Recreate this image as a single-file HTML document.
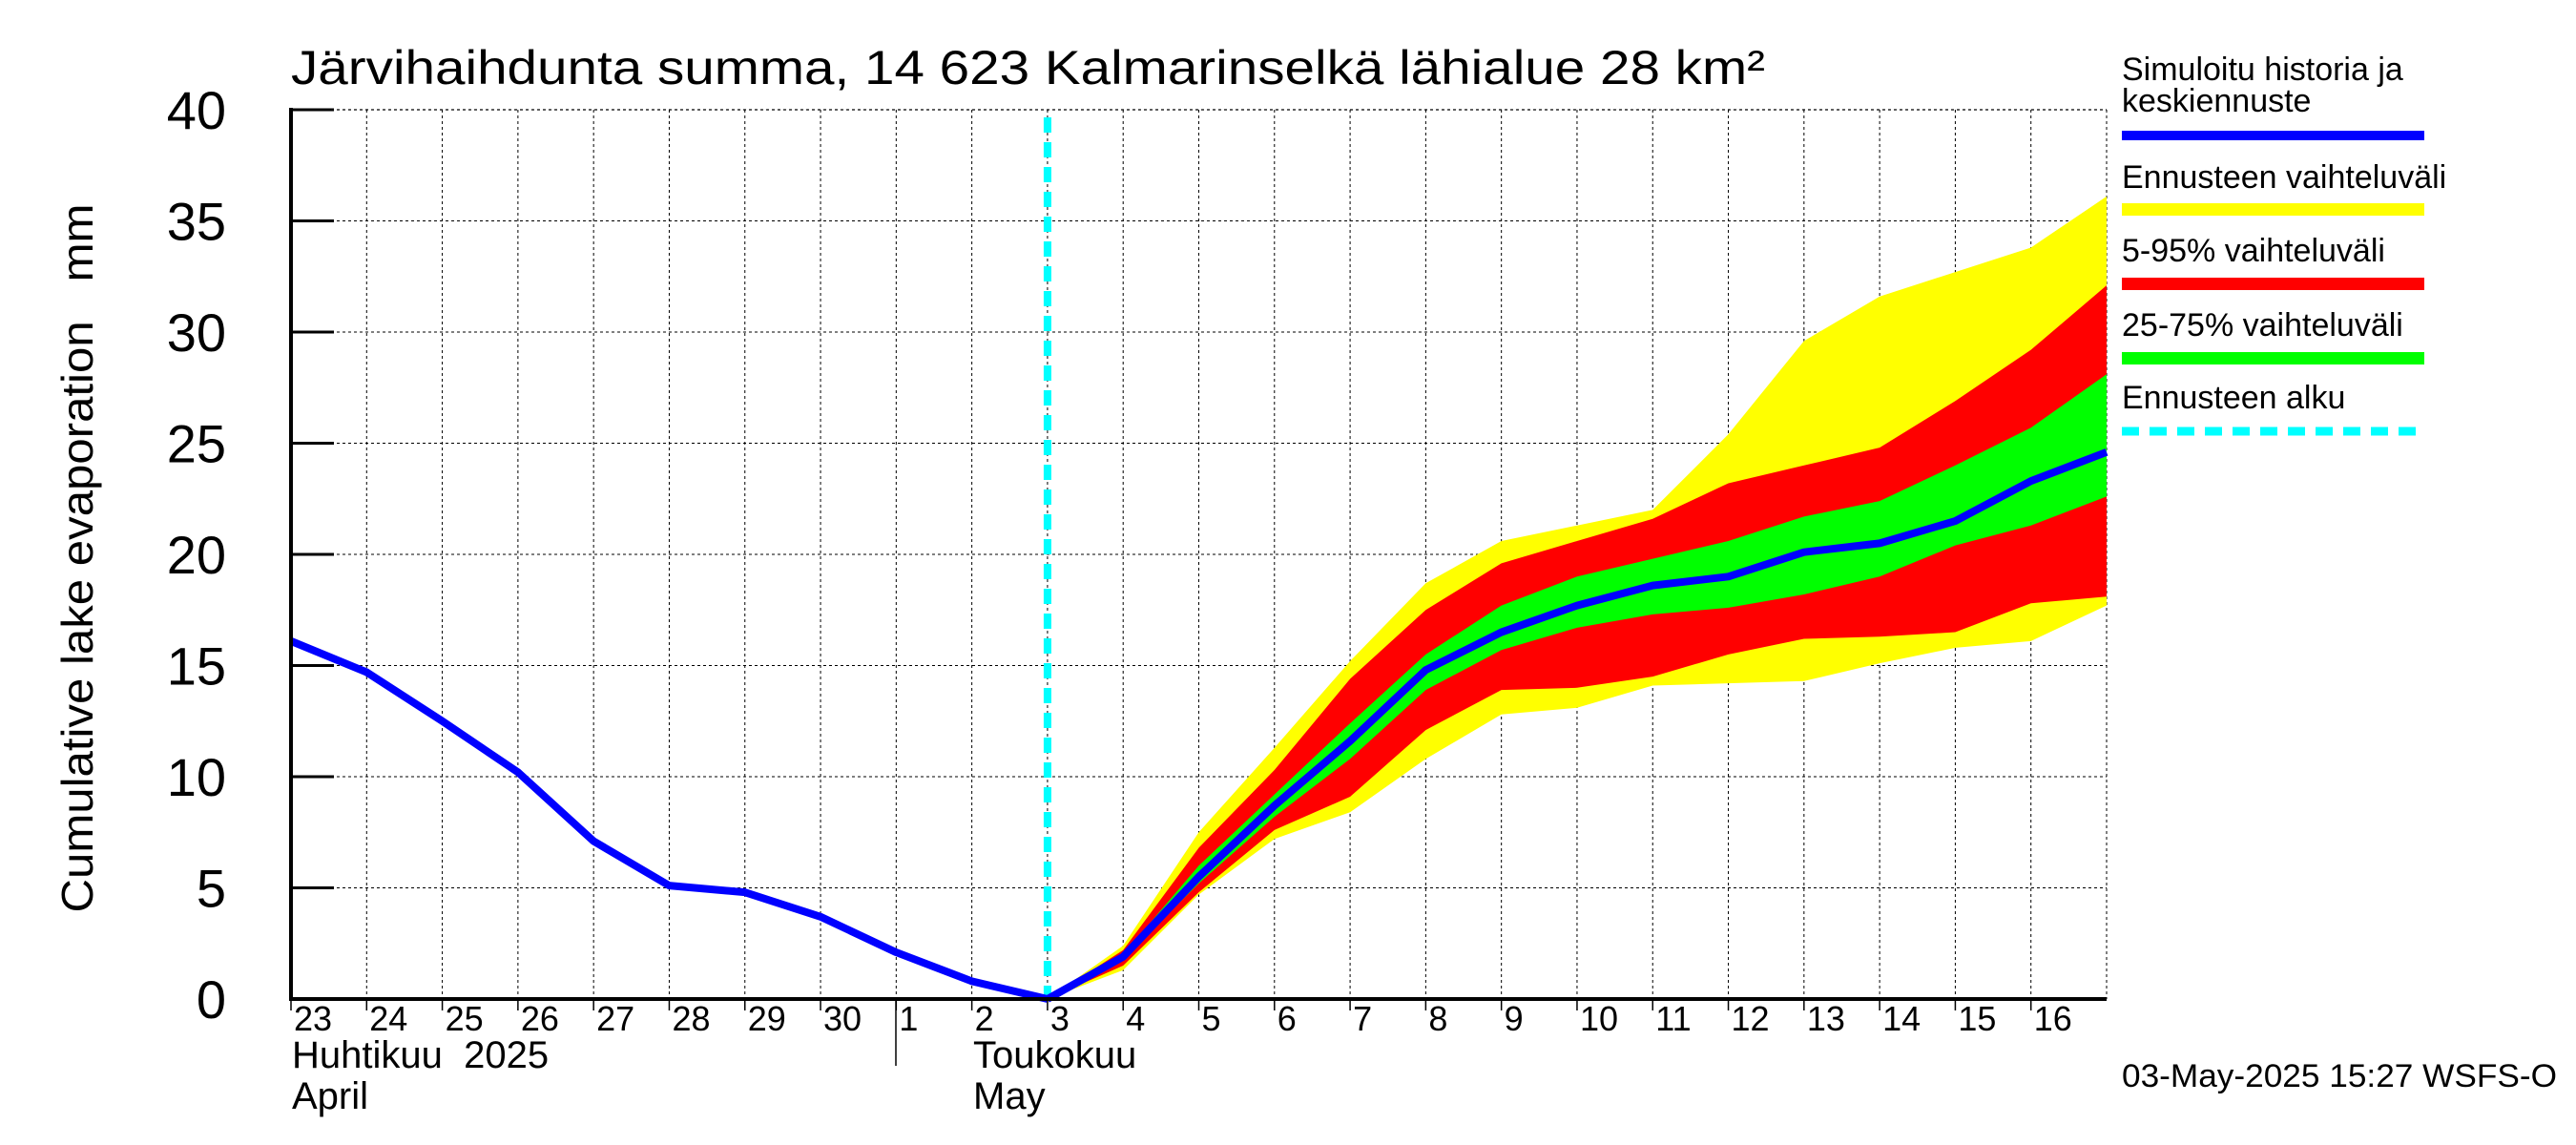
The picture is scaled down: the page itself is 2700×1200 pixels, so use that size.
<!DOCTYPE html>
<html><head><meta charset="utf-8"><style>
html,body{margin:0;padding:0;background:#fff;}
svg{display:block;font-family:"Liberation Sans",sans-serif;}
text{white-space:pre;}
</style></head><body>
<svg id="chart" width="2700" height="1200" viewBox="0 0 2700 1200" xmlns="http://www.w3.org/2000/svg">
<text x="305" y="88" font-size="50" textLength="1545" lengthAdjust="spacingAndGlyphs">Järvihaihdunta summa, 14 623 Kalmarinselkä lähialue 28 km²</text>
<g id="grid"></g>
<g id="bands"></g>
<g id="lines"></g>
<g id="axes"></g>
<text transform="translate(97,585) rotate(-90)" text-anchor="middle" font-size="46" textLength="743" lengthAdjust="spacingAndGlyphs">Cumulative lake evaporation   mm</text>
<text x="306" y="1119" font-size="40">Huhtikuu  2025</text>
<text x="306" y="1162" font-size="40">April</text>
<text x="1020" y="1119" font-size="40">Toukokuu</text>
<text x="1020" y="1162" font-size="40">May</text>
<line x1="939" y1="1047" x2="939" y2="1117" stroke="#000" stroke-width="1.5"/>
<g font-size="34">
<text x="2224" y="84">Simuloitu historia ja</text>
<text x="2224" y="117">keskiennuste</text>
<rect x="2224" y="137" width="317" height="10" fill="#0000ff"/>
<text x="2224" y="197">Ennusteen vaihteluväli</text>
<rect x="2224" y="213" width="317" height="13" fill="#ffff00"/>
<text x="2224" y="274">5-95% vaihteluväli</text>
<rect x="2224" y="291" width="317" height="13" fill="#ff0000"/>
<text x="2224" y="352">25-75% vaihteluväli</text>
<rect x="2224" y="369" width="317" height="13" fill="#00ff00"/>
<text x="2224" y="428">Ennusteen alku</text>
<line x1="2224" y1="452" x2="2541" y2="452" stroke="#00ffff" stroke-width="9" stroke-dasharray="18,11"/>
</g>
<text x="2224" y="1139" font-size="34" textLength="456" lengthAdjust="spacingAndGlyphs">03-May-2025 15:27 WSFS-O</text>
</svg>
<script>
const dayLabels = ["23","24","25","26","27","28","29","30","1","2","3","4","5","6","7","8","9","10","11","12","13","14","15","16"];
const yTicks = [0,5,10,15,20,25,30,35,40];
const historyValues = [16.1,14.7,12.5,10.2,7.1,5.1,4.8,3.7,2.1,0.8,0];
const forecastStart = 10;
const medianForecast = [0,1.9,5.5,8.7,11.6,14.8,16.5,17.7,18.6,19.0,20.1,20.5,21.5,23.3,24.6];
const yellowHigh = [0,2.4,7.5,11.3,15.2,18.7,20.6,21.3,22.0,25.4,29.6,31.6,32.7,33.8,36.1];
const redHigh = [0,2.2,6.8,10.3,14.4,17.5,19.6,20.6,21.6,23.2,24.0,24.8,26.9,29.2,32.1];
const greenHigh = [0,2.0,6.0,9.2,12.4,15.5,17.7,19.0,19.8,20.6,21.7,22.4,24.0,25.7,28.1];
const greenLow = [0,1.8,5.2,8.2,10.8,13.9,15.7,16.7,17.3,17.6,18.2,19.0,20.4,21.3,22.6];
const redLow = [0,1.5,4.8,7.6,9.1,12.1,13.9,14.0,14.5,15.5,16.2,16.3,16.5,17.8,18.1];
const yellowLow = [0,1.3,4.7,7.2,8.4,10.8,12.8,13.1,14.1,14.2,14.3,15.1,15.8,16.1,17.7];

const X0=305, X1=2208, Y0=1047, Y1=115, NDAYS=24, YMAX=40;
const xs = i => X0 + (X1-X0)*i/NDAYS;
const ys = v => Y0 - (Y0-Y1)*v/YMAX;
const NS="http://www.w3.org/2000/svg";
function mk(tag, parent, attrs){const e=document.createElementNS(NS,tag);for(const k in attrs)e.setAttribute(k,attrs[k]);parent.appendChild(e);return e;}
const gridG=document.getElementById('grid'), bandsG=document.getElementById('bands'), linesG=document.getElementById('lines'), axesG=document.getElementById('axes');

for(let i=1;i<=NDAYS;i++){
  const l=mk('line',gridG,{x1:xs(i),y1:Y1,x2:xs(i),y2:Y0,stroke:'#000','stroke-width':1,'stroke-dasharray':'3,3'});
  
  
}
yTicks.forEach(v=>{
  if(v===0)return;
  const l=mk('line',gridG,{x1:X0,y1:ys(v),x2:X1,y2:ys(v),stroke:'#000','stroke-width':1,'stroke-dasharray':'3,3'});
  
  
});

function band(hi,lo,color,name){
  let pts=[];
  hi.forEach((v,k)=>pts.push(xs(forecastStart+k)+','+ys(v)));
  for(let k=lo.length-1;k>=0;k--)pts.push(xs(forecastStart+k)+','+ys(lo[k]));
  const p=mk('polygon',bandsG,{points:pts.join(' '),fill:color});
  
  
}
band(yellowHigh,yellowLow,'#ffff00','band-full-range');
band(redHigh,redLow,'#ff0000','band-5-95');
band(greenHigh,greenLow,'#00ff00','band-25-75');

const cyanLine=mk('line',linesG,{x1:xs(forecastStart),y1:Y1+8,x2:xs(forecastStart),y2:Y0,stroke:'#00ffff','stroke-width':8,'stroke-dasharray':'16,10'});



const histLine=mk('polyline',linesG,{points:historyValues.map((v,i)=>xs(i)+','+ys(v)).join(' '),fill:'none',stroke:'#0000ff','stroke-width':8,'stroke-linejoin':'round'});


const fcLine=mk('polyline',linesG,{points:medianForecast.map((v,k)=>xs(forecastStart+k)+','+ys(v)).join(' '),fill:'none',stroke:'#0000ff','stroke-width':8,'stroke-linejoin':'round'});



const topBorder=mk('line',axesG,{x1:X0,y1:Y1,x2:X1,y2:Y1,stroke:'#000','stroke-width':1.2,'stroke-dasharray':'3,3'});


const yAxisLine=mk('line',axesG,{x1:X0,y1:Y1-2,x2:X0,y2:Y0+2,stroke:'#000','stroke-width':4});


const xAxisLine=mk('line',axesG,{x1:X0-2,y1:Y0,x2:X1,y2:Y0,stroke:'#000','stroke-width':4});



yTicks.forEach(v=>{
  const t=mk('line',axesG,{x1:X0,y1:ys(v),x2:X0+45,y2:ys(v),stroke:'#000','stroke-width':3});
  
  
  const tx=mk('text',axesG,{x:237,y:ys(v)+20,'text-anchor':'end','font-size':56});
  tx.textContent=v;
  
  
});
dayLabels.forEach((d,i)=>{
  const t=mk('line',axesG,{x1:xs(i),y1:Y0,x2:xs(i),y2:Y0+12,stroke:'#000','stroke-width':1.5});
  
  
  const tx=mk('text',axesG,{x:xs(i)+3,y:1080,'font-size':36});
  tx.textContent=d;
  
  
});
</script>
</body></html>
